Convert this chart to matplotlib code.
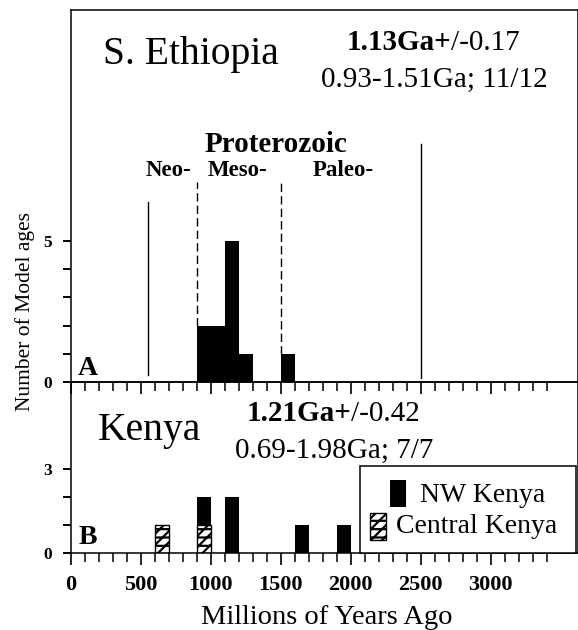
import matplotlib
matplotlib.use("Agg")
import matplotlib.pyplot as plt
from matplotlib.patches import Rectangle
import numpy as np

plt.rcParams['font.family'] = ['Liberation Serif', 'DejaVu Serif']
plt.rcParams['lines.scale_dashes'] = False
plt.rcParams['hatch.linewidth'] = 1.6

# ---- data ----
bin_width = 100
ethiopia_bins = [900, 1000, 1100, 1200, 1500]
ethiopia_counts = [2, 2, 5, 1, 1]

nw_kenya_bins = [900, 1100, 1600, 1900]
nw_kenya_counts = [1, 2, 1, 1]
central_kenya_bins = [600, 900]
central_kenya_counts = [1, 1]

# era boundary lines (age, ymin, ymax, style)
boundary_ages = [550, 900, 1500, 2500]
boundary_ymin = [0.24, 2.0, 1.0, 0.12]
boundary_ymax = [6.41, 7.12, 7.12, 8.47]
boundary_dashed = [False, True, True, False]

x_major = list(range(0, 3001, 500))
x_minor = list(range(0, 3401, 100))
x_labels = [str(v) for v in x_major]
yA_ticks = [0, 1, 2, 3, 4, 5]
yA_labels = ['0', '', '', '', '', '5']
yB_ticks = [0, 1, 2, 3]
yB_labels = ['0', '', '', '3']

HATCH = '///--'

W, H = 578, 630
fig = plt.figure(figsize=(W / 100, H / 100), dpi=100)
left_px, right_px = 71, 577.5
axA = fig.add_axes([left_px / W, (H - 381.7) / H, (right_px - left_px) / W, 371.7 / H])
axB = fig.add_axes([left_px / W, (H - 553.3) / H, (right_px - left_px) / W, 171.6 / H])
axA.set_zorder(2)
axA.patch.set_alpha(0)

for ax in (axA, axB):
    ax.set_xlim(0, 3620)
    for s in ax.spines.values():
        s.set_linewidth(1.1)
    ax.set_xticks(x_major)
    ax.set_xticks(x_minor, minor=True)
    ax.tick_params(axis='x', which='major', direction='out', length=8.5, width=1.2, pad=7)
    ax.tick_params(axis='x', which='minor', direction='out', length=6.5, width=1.1)
    ax.tick_params(axis='y', which='major', direction='out', length=5.8, width=1.4, pad=8)
    ax.tick_params(top=False, right=False)

axA.set_ylim(0, 13.24)
axB.set_ylim(0, 6.11)
axA.set_yticks(yA_ticks, labels=yA_labels)
axB.set_yticks(yB_ticks, labels=yB_labels)
axA.tick_params(axis='x', labelbottom=False)
axB.set_xticklabels(x_labels)
for lab in axB.get_xticklabels():
    lab.set_fontweight('bold'); lab.set_fontsize(16)
for ax in (axA, axB):
    for lab in ax.get_yticklabels():
        lab.set_fontweight('bold'); lab.set_fontsize(12.5)

# ---- panel A ----
axA.bar(ethiopia_bins, ethiopia_counts, width=bin_width, align='edge',
        color='black', edgecolor='black', linewidth=0)
for age, y0, y1, d in zip(boundary_ages, boundary_ymin, boundary_ymax, boundary_dashed):
    if d:
        axA.plot([age, age], [y0, y1], color='black', lw=1.0, dashes=(6, 3))
    else:
        axA.plot([age, age], [y0, y1], color='black', lw=1.0)

tA = axA.transAxes
axA.text(0.2361, 0.8537, 'S. Ethiopia', transform=tA, ha='center', va='baseline', fontsize=28.5)
t1 = axA.text((346.7 - 71) / 506.5, 0.8924, '1.13Ga+', transform=tA, ha='left', va='baseline',
              fontsize=21, fontweight='bold')
axA.annotate('/-0.17', xy=(1, 0), xycoords=t1, ha='left', va='bottom', fontsize=21)
axA.text(0.7164, 0.792, '0.93-1.51Ga; 11/12', transform=tA, ha='center', va='baseline', fontsize=21)
axA.text(0.404, 0.6188, 'Proterozoic', transform=tA, ha='center', va='baseline', fontsize=21,
         fontweight='bold')
axA.text(0.1927, 0.5525, 'Neo-', transform=tA, ha='center', va='baseline', fontsize=16.5, fontweight='bold')
axA.text(0.3294, 0.5525, 'Meso-', transform=tA, ha='center', va='baseline', fontsize=16.5, fontweight='bold')
axA.text(0.5379, 0.5535, 'Paleo-', transform=tA, ha='center', va='baseline', fontsize=16.5, fontweight='bold')
axA.text(0.0138, 0.018, 'A', transform=tA, ha='left', va='baseline', fontsize=20, fontweight='bold')

# ---- panel B ----
central_lookup = dict(zip(central_kenya_bins, central_kenya_counts))
nw_bottom = [central_lookup.get(b, 0) for b in nw_kenya_bins]
axB.bar(central_kenya_bins, central_kenya_counts, width=bin_width, align='edge',
        facecolor='white', edgecolor='black', hatch=HATCH, linewidth=1.0)
axB.bar(nw_kenya_bins, nw_kenya_counts, width=bin_width, align='edge', bottom=nw_bottom,
        color='black', edgecolor='black', linewidth=0)

tB = axB.transAxes
axB.text(0.1558, 0.660, 'Kenya', transform=tB, ha='center', va='baseline', fontsize=28.5)
t2 = axB.text(0.3465, 0.771, '1.21Ga+', transform=tB, ha='left', va='baseline',
              fontsize=21, fontweight='bold')
axB.annotate('/-0.42', xy=(1, 0), xycoords=t2, ha='left', va='bottom', fontsize=21)
axB.text(0.5187, 0.5536, '0.69-1.98Ga; 7/7', transform=tB, ha='center', va='baseline', fontsize=21)
axB.text(0.0144, 0.0524, 'B', transform=tB, ha='left', va='baseline', fontsize=20, fontweight='bold')

# legend box
axB.add_patch(Rectangle((0.570, 0.0), 0.428, 0.5087, transform=tB, facecolor='white',
                        edgecolor='black', linewidth=1.1, zorder=3, clip_on=False))
axB.add_patch(Rectangle((0.6306, 0.268), 0.0301, 0.1592, transform=tB, facecolor='black',
                        edgecolor='black', linewidth=0, zorder=4))
axB.add_patch(Rectangle((0.5911, 0.0775), 0.0302, 0.1556, transform=tB, facecolor='white',
                        edgecolor='black', hatch=HATCH, linewidth=1.0, zorder=4))
axB.text(0.6884, 0.3397, 'NW Kenya', transform=tB, ha='left', va='center', fontsize=20, zorder=5)
axB.text(0.641, 0.155, 'Central Kenya', transform=tB, ha='left', va='center', fontsize=20, zorder=5)

fig.text(0.0433, 0.5063, 'Number of Model ages', rotation=90, ha='center', va='center', fontsize=15.5)
fig.text(326.7 / W, 5.5 / H, 'Millions of Years Ago', ha='center', va='baseline', fontsize=20.5)

fig.savefig('out.png', dpi=100)
